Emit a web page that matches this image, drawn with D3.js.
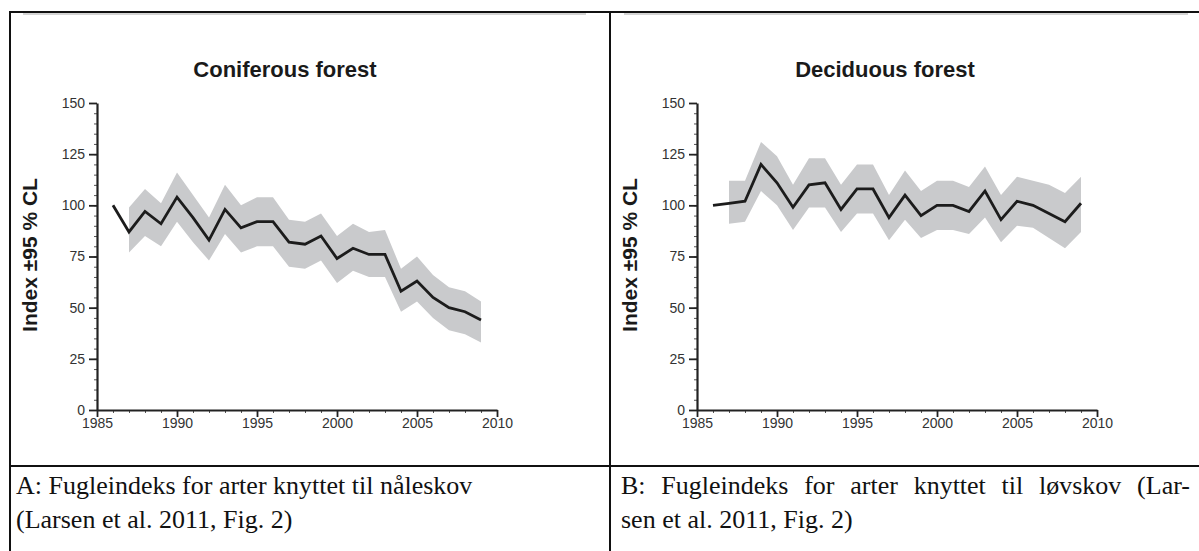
<!DOCTYPE html>
<html lang="en">
    <head>
        <meta charset="utf-8">
        <title>Fugleindeks skov</title>
        <script type="text/javascript" src="https://cdn.jsdelivr.net/npm/d3@7/dist/d3.min.js"></script>
        <style type="text/css">
        body { margin: 0; background: #fff; }
        .tick text { font-family: Arial, "Liberation Sans", sans-serif; font-size: 14px; fill: #333; }
        </style>
    </head>
    <body>
        <script type="text/javascript">
            var w = 1199;
            var h = 551;

            // Data (index, lower and upper 95% CL)
            var years = [1986, 1987, 1988, 1989, 1990, 1991, 1992, 1993, 1994, 1995, 1996, 1997,
                         1998, 1999, 2000, 2001, 2002, 2003, 2004, 2005, 2006, 2007, 2008, 2009];

            var conifIndex = [100, 87, 97, 91, 104, 94, 83, 98, 89, 92, 92, 82,
                              81, 85, 74, 79, 76, 76, 58, 63, 55, 50, 48, 44];
            var conifLower = [null, 77, 85, 80, 92, 82, 73, 86, 77, 80, 80, 70,
                              69, 73, 62, 68, 65, 65, 48, 53, 45, 39, 37, 33];
            var conifUpper = [null, 99, 108, 101, 116, 105, 94, 110, 100, 104, 104, 93,
                              92, 96, 85, 91, 87, 88, 69, 75, 66, 60, 58, 53];

            var decidIndex = [100, 101, 102, 120, 111, 99, 110, 111, 98, 108, 108, 94,
                              105, 95, 100, 100, 97, 107, 93, 102, 100, 96, 92, 101];
            var decidLower = [null, 91, 92, 107, 100, 88, 99, 99, 87, 96, 96, 83,
                              93, 84, 88, 88, 86, 94, 82, 90, 89, 84, 79, 87];
            var decidUpper = [null, 112, 112, 131, 124, 110, 123, 123, 110, 120, 120, 105,
                              117, 107, 112, 112, 109, 119, 105, 114, 112, 110, 106, 114];

            var xTicks = [1985, 1990, 1995, 2000, 2005, 2010];
            var yTicks = [0, 25, 50, 75, 100, 125, 150];

            var titles = ["Coniferous forest", "Deciduous forest"];
            var yLabel = "Index \u00b195 % CL";
            var captionA = ["A: Fugleindeks for arter knyttet til n\u00e5leskov", "(Larsen et al. 2011, Fig. 2)"];
            var captionB = ["B: Fugleindeks for arter knyttet til l\u00f8vskov (Lar-", "sen et al. 2011, Fig. 2)"];

            var svg = d3.select("body")
                        .append("svg")
                        .attr("width", w)
                        .attr("height", h);

            svg.append("rect").attr("width", w).attr("height", h).attr("fill", "#fff");

            // faint top edge of the pasted figure images
            svg.append("line").attr("x1", 23).attr("x2", 586).attr("y1", 14).attr("y2", 14)
                .attr("stroke", "#aaa").attr("stroke-width", 1);
            svg.append("line").attr("x1", 624).attr("x2", 1188).attr("y1", 14).attr("y2", 14)
                .attr("stroke", "#aaa").attr("stroke-width", 1);

            // table frame around the two figures
            var frame = svg.append("g").attr("stroke", "#111").attr("stroke-width", 2);
            frame.append("line").attr("x1", 9).attr("x2", w).attr("y1", 12).attr("y2", 12);
            frame.append("line").attr("x1", 9).attr("x2", w).attr("y1", 466).attr("y2", 466);
            frame.append("line").attr("x1", 10).attr("x2", 10).attr("y1", 11).attr("y2", h);
            frame.append("line").attr("x1", 610).attr("x2", 610).attr("y1", 11).attr("y2", h);

            function panel(dx, title, idx, lo, hi) {
                var g = svg.append("g").attr("transform", "translate(" + dx + ",0)");

                var x = d3.scaleLinear().domain([1985, 2010]).range([97, 497]);
                var y = d3.scaleLinear().domain([0, 150]).range([410, 103]);

                var rows = years.map(function(d, i) {
                    return { year: d, v: idx[i], lo: lo[i], hi: hi[i] };
                });

                var area = d3.area()
                    .defined(function(d) { return d.lo !== null; })
                    .x(function(d) { return x(d.year); })
                    .y0(function(d) { return y(d.lo); })
                    .y1(function(d) { return y(d.hi); });

                var line = d3.line()
                    .x(function(d) { return x(d.year); })
                    .y(function(d) { return y(d.v); });

                g.append("path").datum(rows)
                    .attr("d", area)
                    .attr("fill", "#c9cacc");

                g.append("path").datum(rows)
                    .attr("d", line)
                    .attr("fill", "none")
                    .attr("stroke", "#1c1c1c")
                    .attr("stroke-width", 2.8)
                    .attr("stroke-linejoin", "miter");

                // minor ticks first, then the labelled axes on top
                g.append("g").attr("transform", "translate(97,0)")
                    .call(d3.axisLeft(y).tickValues(d3.range(0, 151, 5)).tickSize(3).tickFormat(""))
                    .call(function(s) { s.select(".domain").remove(); s.selectAll("line").attr("stroke", "#555"); });
                g.append("g").attr("transform", "translate(0,410)")
                    .call(d3.axisBottom(x).tickValues(d3.range(1985, 2011, 1)).tickSize(3).tickFormat(""))
                    .call(function(s) { s.select(".domain").remove(); s.selectAll("line").attr("stroke", "#555"); });

                var ya = g.append("g").attr("transform", "translate(97,0)")
                    .call(d3.axisLeft(y).tickValues(yTicks).tickSize(8).tickSizeOuter(0).tickPadding(4));
                var xa = g.append("g").attr("transform", "translate(0,410)")
                    .call(d3.axisBottom(x).tickValues(xTicks).tickFormat(d3.format("d")).tickSize(7).tickSizeOuter(0).tickPadding(1));
                [ya, xa].forEach(function(a) {
                    a.select(".domain").attr("stroke", "#222").attr("stroke-width", 2.2);
                    a.selectAll(".tick line").attr("stroke", "#222").attr("stroke-width", 1.8);
                });

                g.append("text")
                    .text(title)
                    .attr("x", 285)
                    .attr("y", 77)
                    .attr("text-anchor", "middle")
                    .attr("font-family", "Arial, 'Liberation Sans', sans-serif")
                    .attr("font-weight", "bold")
                    .attr("font-size", "22px")
                    .attr("fill", "#1a1a1a");

                g.append("text")
                    .text(yLabel)
                    .attr("transform", "translate(37,255) rotate(-90)")
                    .attr("text-anchor", "middle")
                    .attr("font-family", "Arial, 'Liberation Sans', sans-serif")
                    .attr("font-weight", "bold")
                    .attr("font-size", "21px")
                    .attr("fill", "#1a1a1a");
            }

            panel(0, titles[0], conifIndex, conifLower, conifUpper);
            panel(600, titles[1], decidIndex, decidLower, decidUpper);

            // captions under the figures; first line of B is justified to the cell edge
            function caption(x0, lines, justifyTo) {
                var t = svg.selectAll(null)
                    .data(lines)
                    .enter()
                    .append("text")
                    .text(function(d) { return d; })
                    .attr("x", x0)
                    .attr("y", function(d, i) { return 494 + i * 34; })
                    .attr("font-family", "'Liberation Serif', 'Times New Roman', serif")
                    .attr("font-size", "26px")
                    .attr("fill", "#111");
                if (justifyTo) {
                    var first = t.filter(function(d, i) { return i === 0; });
                    var natural = first.node().getComputedTextLength();
                    var gaps = lines[0].split(" ").length - 1;
                    first.attr("word-spacing", Math.max(0, (justifyTo - x0 - natural) / gaps));
                }
            }
            caption(16, captionA);
            caption(621, captionB, 1190);
        </script>
    </body>
</html>
